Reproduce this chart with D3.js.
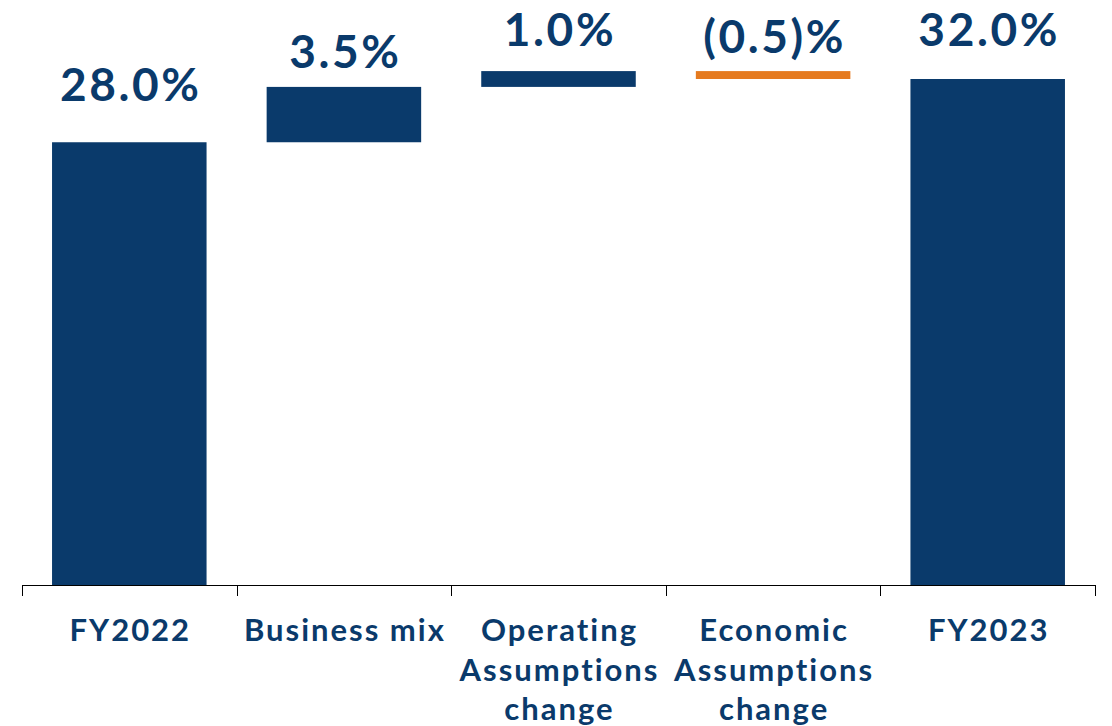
<!DOCTYPE html>
<html>
<head>
<meta charset="utf-8">
<script src="https://cdn.jsdelivr.net/npm/d3@7"></script>
<style>
  html, body { margin: 0; padding: 0; background: #fff; }
  svg { display: block; font-family: Lato, "Open Sans", sans-serif; }
</style>
</head>
<body>
<svg id="chart" width="1112" height="726"></svg>
<script>
// waterfall data
var categories = ["FY2022", "Business mix", "Operating Assumptions change", "Economic Assumptions change", "FY2023"];
var values = [28.0, 3.5, 1.0, -0.5, 32.0];
var kinds = ["total", "delta", "delta", "delta", "total"];
var valueLabels = ["28.0%", "3.5%", "1.0%", "(0.5)%", "32.0%"];
var tickLines = [["FY2022"], ["Business mix"], ["Operating", "Assumptions", "change"], ["Economic", "Assumptions", "change"], ["FY2023"]];

var navy = "#0a3a6b", orange = "#e57a1f";
// label gap above each bar (px)
var labelGap = [41, 19, 25, 18, 33];

var svg = d3.select("#chart");
var baseY = 585;

var x = d3.scaleBand()
    .domain(categories)
    .range([22, 1095])
    .paddingInner(0.28)
    .paddingOuter(0.14);

var y = d3.scaleLinear()
    .domain([0, 32])
    .range([baseY, 79]);

// running total -> start/end
var running = 0;
var bars = categories.map(function (c, i) {
    var start, end;
    if (kinds[i] == "total") { start = 0; end = values[i]; running = values[i]; }
    else { start = running; end = running + values[i]; running = end; }
    return {cat: c, start: start, end: end, value: values[i], label: valueLabels[i], gap: labelGap[i]};
});

svg.selectAll(".bar")
    .data(bars)
    .enter()
    .append("rect")
    .attr("class", "bar")
    .attr("x", function (d) { return x(d.cat); })
    .attr("width", x.bandwidth())
    .attr("y", function (d) { return y(Math.max(d.start, d.end)); })
    .attr("height", function (d) { return Math.abs(y(d.start) - y(d.end)); })
    .style("fill", function (d) { return d.value < 0 ? orange : navy; });

svg.selectAll(".val")
    .data(bars)
    .enter()
    .append("text")
    .attr("class", "val")
    .attr("x", function (d) { return x(d.cat) + x.bandwidth() / 2 + 1.5; })
    .attr("y", function (d) { return y(Math.max(d.start, d.end)) - d.gap; })
    .attr("text-anchor", "middle")
    .style("font-size", "46px")
    .style("font-weight", 700)
    .style("letter-spacing", "2.6px")
    .style("fill", navy)
    .text(function (d) { return d.label; });

// axis line + boundary ticks
var half = x.step() * x.paddingInner() / 2;
var bounds = categories.map(function (c) { return x(c) - half; });
bounds.push(x(categories[categories.length - 1]) + x.bandwidth() + half);

svg.append("line")
    .attr("x1", bounds[0]).attr("x2", bounds[bounds.length - 1])
    .attr("y1", baseY + 0.5).attr("y2", baseY + 0.5)
    .style("stroke", "#000").style("stroke-width", 1);

svg.selectAll(".tick")
    .data(bounds)
    .enter()
    .append("line")
    .attr("class", "tick")
    .attr("x1", function (d) { return Math.round(d) + 0.5; })
    .attr("x2", function (d) { return Math.round(d) + 0.5; })
    .attr("y1", baseY).attr("y2", baseY + 11)
    .style("stroke", "#000").style("stroke-width", 1);

var cat = svg.selectAll(".cat")
    .data(categories)
    .enter()
    .append("text")
    .attr("class", "cat")
    .attr("text-anchor", "middle")
    .style("font-size", "31px")
    .style("font-weight", 700)
    .style("letter-spacing", "2px")
    .style("fill", navy);

cat.each(function (c, i) {
    var t = d3.select(this);
    tickLines[i].forEach(function (line, j) {
        t.append("tspan")
            .attr("x", x(c) + x.bandwidth() / 2 + 1)
            .attr("y", 641 + j * 39.5)
            .text(line);
    });
});
</script>
</body>
</html>
